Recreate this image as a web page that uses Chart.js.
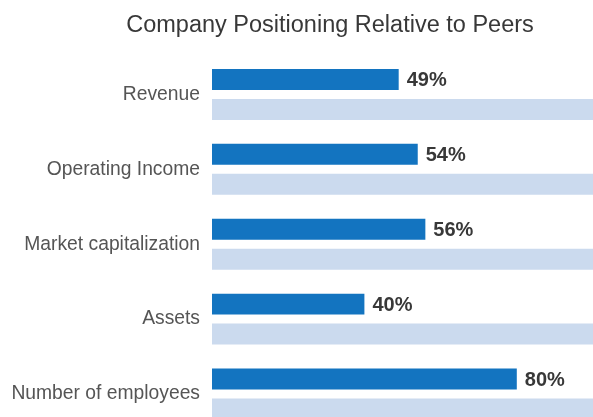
<!DOCTYPE html>
<html>
<head>
<meta charset="utf-8">
<script src="https://cdn.jsdelivr.net/npm/chart.js@4.4.1/dist/chart.umd.min.js"></script>
<style>
  html, body { margin: 0; padding: 0; background: #fff; overflow: hidden; }
  #wrap { width: 593px; height: 417px; overflow: hidden; }
</style>
</head>
<body>
<div id="wrap"><canvas id="canvas" width="593" height="455"></canvas></div>
<script>
const titleText = 'Company Positioning Relative to Peers';
const categories = ['Revenue', 'Operating Income', 'Market capitalization', 'Assets', 'Number of employees'];
const positionValues = [49, 54, 56, 40, 80];
const peerRange = [100, 100, 100, 100, 100];

const FONT = '"Liberation Sans", Arial, Helvetica, sans-serif';

// title sits left of the canvas centre, so it is drawn by hand
const titlePlugin = {
  id: 'customTitle',
  afterDraw(chart) {
    const ctx = chart.ctx;
    ctx.save();
    ctx.font = '23.5px ' + FONT;
    ctx.fillStyle = '#383838';
    ctx.textAlign = 'center';
    ctx.textBaseline = 'alphabetic';
    ctx.fillText(titleText, 330, 32);
    ctx.restore();
  },
};

// percentage labels at the end of the blue bars
const valueLabels = {
  id: 'valueLabels',
  afterDatasetsDraw(chart) {
    const ctx = chart.ctx;
    const meta = chart.getDatasetMeta(0);
    ctx.save();
    ctx.font = 'bold 20px ' + FONT;
    ctx.fillStyle = '#383838';
    ctx.textAlign = 'left';
    ctx.textBaseline = 'middle';
    meta.data.forEach((bar, i) => {
      ctx.fillText(positionValues[i] + '%', bar.x + 8, bar.y + 1);
    });
    ctx.restore();
  },
};

const ctx = document.getElementById('canvas').getContext('2d');
new Chart(ctx, {
  type: 'bar',
  data: {
    labels: categories,
    datasets: [
      {
        data: positionValues,
        backgroundColor: '#1374c0',
        borderWidth: 0,
        categoryPercentage: 0.8,
        barPercentage: 0.7,
      },
      {
        data: peerRange,
        backgroundColor: '#cbdaee',
        borderWidth: 0,
        categoryPercentage: 0.8,
        barPercentage: 0.7,
      },
    ],
  },
  options: {
    indexAxis: 'y',
    responsive: false,
    animation: false,
    layout: {
      padding: { top: 57, bottom: 8, left: 0, right: 0 },
    },
    scales: {
      x: {
        display: false,
        min: 0,
        max: 100,
      },
      y: {
        grid: { display: false, drawTicks: false },
        border: { display: false },
        ticks: {
          padding: 12,
          color: '#555555',
          font: { family: FONT, size: 19.3 },
        },
        afterFit(scale) {
          scale.width = 212;
        },
      },
    },
    plugins: {
      legend: { display: false },
      title: { display: false },
      tooltip: { enabled: false },
    },
  },
  plugins: [titlePlugin, valueLabels],
});
</script>
</body>
</html>
